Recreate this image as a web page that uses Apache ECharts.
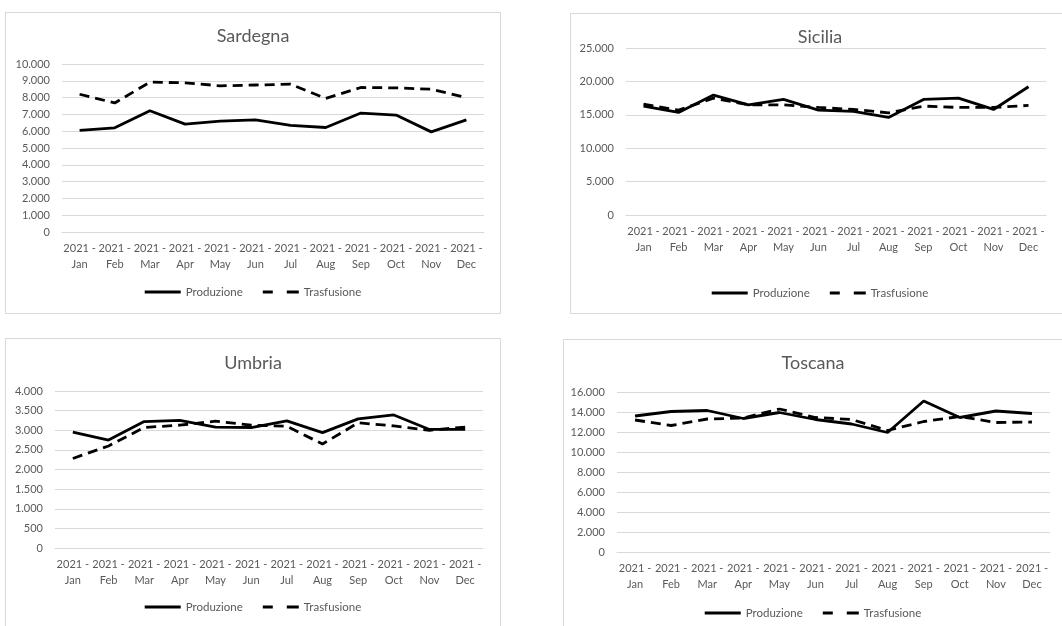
<!DOCTYPE html>
<html>
<head>
<meta charset="utf-8">
<script src="https://cdn.jsdelivr.net/npm/echarts@6/dist/echarts.min.js"></script>
<style>
  html, body { margin: 0; padding: 0; background: #ffffff; overflow: hidden; }
  body { width: 1062px; height: 626px; position: relative; }
  .panel { position: absolute; border: 1px solid #d9d9d9; box-sizing: border-box; background: #fff; }
</style>
</head>
<body>
<div id="sardegna" class="panel" style="left:5px;top:12px;width:496px;height:302px;"></div>
<div id="sicilia" class="panel" style="left:570px;top:13px;width:500px;height:301px;"></div>
<div id="umbria" class="panel" style="left:5px;top:338px;width:496px;height:300px;"></div>
<div id="toscana" class="panel" style="left:563px;top:339px;width:500px;height:300px;"></div>
<script>
// Months of 2021, shown as two-line category labels
const months = ['Jan', 'Feb', 'Mar', 'Apr', 'May', 'Jun', 'Jul', 'Aug', 'Sep', 'Oct', 'Nov', 'Dec'];
const categories = months.map(m => '2021 -\n' + m);
const seriesNames = ['Produzione', 'Trasfusione'];

// Sardegna
const sardegnaProduzione  = [6050, 6200, 7220, 6420, 6600, 6670, 6350, 6220, 7080, 6960, 5960, 6670];
const sardegnaTrasfusione = [8200, 7680, 8920, 8880, 8700, 8750, 8800, 7950, 8600, 8580, 8500, 8000];

// Sicilia
const siciliaProduzione  = [16300, 15350, 17950, 16500, 17300, 15700, 15500, 14600, 17300, 17500, 15800, 19200];
const siciliaTrasfusione = [16600, 15700, 17500, 16500, 16500, 16100, 15800, 15300, 16300, 16100, 16100, 16400];

// Umbria
const umbriaProduzione  = [2950, 2750, 3220, 3250, 3080, 3070, 3240, 2940, 3290, 3390, 3020, 3020];
const umbriaTrasfusione = [2280, 2600, 3070, 3130, 3230, 3130, 3100, 2650, 3190, 3110, 3000, 3080];

// Toscana
const toscanaProduzione  = [13600, 14050, 14150, 13350, 13950, 13250, 12800, 11950, 15100, 13450, 14100, 13850];
const toscanaTrasfusione = [13200, 12650, 13300, 13400, 14300, 13450, 13250, 12150, 13050, 13550, 12950, 13000];

const FONT = 'Lato, "Open Sans", sans-serif';
const TEXT = '#595959';
const GRID = '#d9d9d9';

// Legend keys: a plain bar for the solid line, two short bars for the dashed one
const ICON_SOLID = 'path://M0,0 H36 V3 H0 Z';
const ICON_DASHED = 'path://M0,0 H10 V3 H0 Z M24,0 H36 V3 H24 Z';

function itFormat(v) {
  return String(v).replace(/\B(?=(\d{3})+(?!\d))/g, '.');
}

function build(el, title, prod, trasf, yMax, yStep, layout) {
  const chart = echarts.init(document.getElementById(el), null, { renderer: 'canvas' });
  chart.setOption({
    animation: false,
    textStyle: { fontFamily: FONT },
    title: {
      text: title,
      left: 'center',
      top: layout.titleTop,
      textStyle: { fontFamily: FONT, fontSize: 18, fontWeight: 'normal', color: TEXT }
    },
    legend: {
      data: [
        { name: seriesNames[0], icon: ICON_SOLID },
        { name: seriesNames[1], icon: ICON_DASHED }
      ],
      left: 'center',
      top: layout.legendTop,
      itemWidth: 36,
      itemHeight: 3,
      itemGap: 20,
      textStyle: { fontFamily: FONT, fontSize: 11.5, color: TEXT }
    },
    grid: layout.grid,
    xAxis: {
      type: 'category',
      data: categories,
      boundaryGap: true,
      axisTick: { show: false },
      axisLine: { lineStyle: { color: GRID, width: 1 } },
      axisLabel: { interval: 0, color: TEXT, fontFamily: FONT, fontSize: 11, lineHeight: 15.5, margin: 9 }
    },
    yAxis: {
      type: 'value',
      min: 0,
      max: yMax,
      interval: yStep,
      axisLine: { show: false },
      axisTick: { show: false },
      splitLine: { lineStyle: { color: GRID, width: 1 } },
      axisLabel: { color: TEXT, fontFamily: FONT, fontSize: 11, margin: 12, formatter: itFormat }
    },
    series: [
      {
        name: seriesNames[0],
        type: 'line',
        data: prod,
        symbol: 'none',
        lineStyle: { color: '#000000', width: 2.8, type: 'solid' },
        itemStyle: { color: '#000000' }
      },
      {
        name: seriesNames[1],
        type: 'line',
        data: trasf,
        symbol: 'none',
        lineStyle: { color: '#000000', width: 2.8, type: [10, 6] },
        itemStyle: { color: '#000000' }
      }
    ]
  });
}

build('sardegna', 'Sardegna', sardegnaProduzione, sardegnaTrasfusione, 10000, 1000, {
  titleTop: 9, legendTop: 268,
  grid: { left: 56, right: 16, top: 51, bottom: 81 }
});
build('sicilia', 'Sicilia', siciliaProduzione, siciliaTrasfusione, 25000, 5000, {
  titleTop: 9, legendTop: 268,
  grid: { left: 55, right: 23, top: 34, bottom: 98 }
});
build('umbria', 'Umbria', umbriaProduzione, umbriaTrasfusione, 4000, 500, {
  titleTop: 10, legendTop: 257,
  grid: { left: 49, right: 17, top: 52, bottom: 89 }
});
build('toscana', 'Toscana', toscanaProduzione, toscanaTrasfusione, 16000, 2000, {
  titleTop: 9, legendTop: 262,
  grid: { left: 53, right: 12, top: 52, bottom: 86 }
});
</script>
</body>
</html>
